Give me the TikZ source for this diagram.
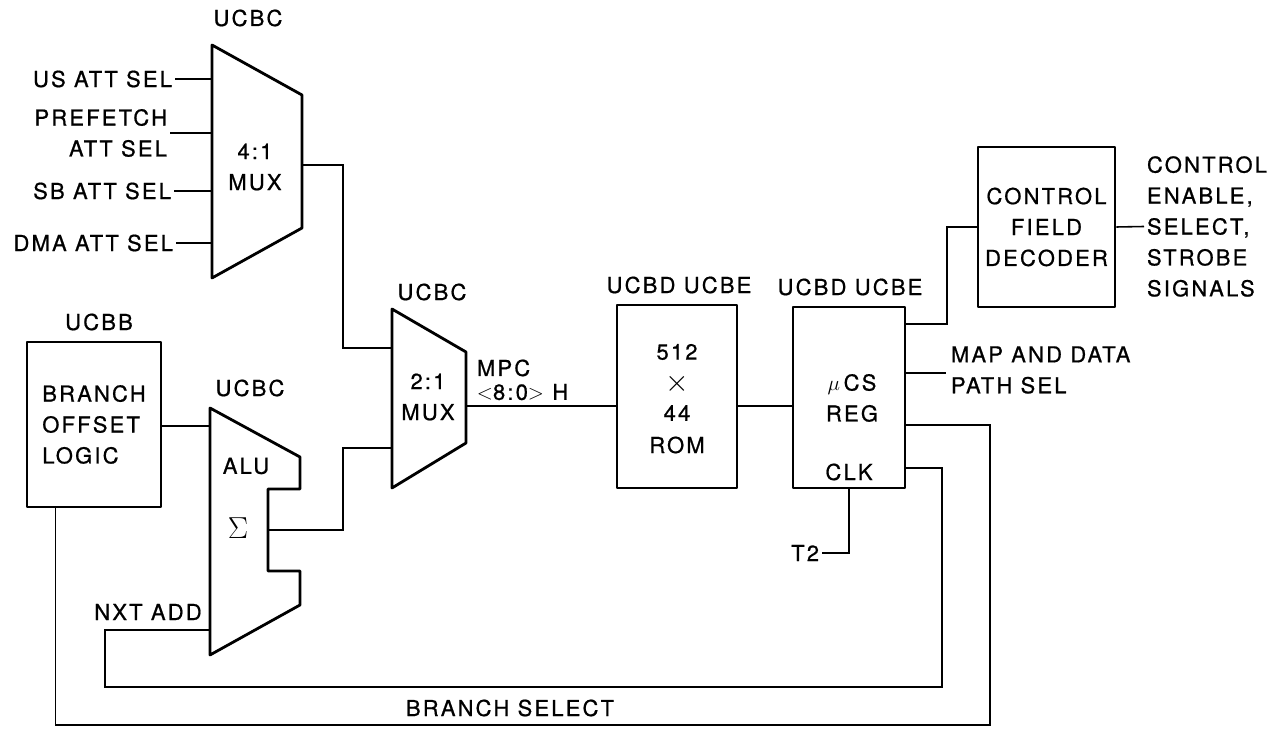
\documentclass[tikz,border=0pt]{standalone}
\usepackage{fontspec}
\setmainfont{TeX Gyre Heros}[LetterSpace=10,FakeBold=0.8]
\usetikzlibrary{positioning}
\newcommand{\lblfont}{\fontsize{12.5}{17.6}\selectfont}
\tikzset{
  blk/.style={draw,line width=1.6pt,line join=round,align=center},
  wire/.style={line width=0.9pt},
  lbl/.style={inner sep=1.5pt,align=center},
}
\begin{document}
\begin{tikzpicture}[x=0.02cm,y=-0.02cm,every node/.style={font=\lblfont}]
\useasboundingbox (0,0) rectangle (1276,729);
% 4:1 mux
\draw[blk] (212,45) -- (302,95) -- (302,228) -- (212,278) -- cycle;
\coordinate (mfin1) at (212,79);
\coordinate (mfin2) at (212,133);
\coordinate (mfin3) at (212,191);
\coordinate (mfin4) at (212,243);
\coordinate (mfout) at (302,165);
\node[lbl] (mftxt) at (255,167) {4:1\\MUX};
\node[lbl] (mfchip) at (248,18) {UCBC};
\node[lbl,anchor=east] (us) at (175,79) {US ATT SEL};
\node[lbl,anchor=east,align=right] (pf) at (170,133) {PREFETCH\\ATT SEL};
\node[lbl,anchor=east] (sb) at (174,191) {SB ATT SEL};
\node[lbl,anchor=east] (dma) at (176,243) {DMA ATT SEL};
\foreach \s/\t in {us/mfin1,pf/mfin2,sb/mfin3,dma/mfin4}
  \draw[wire] (\s.east) -- (\t);
% 2:1 mux
\draw[blk] (392,309) -- (466,352) -- (466,443) -- (392,488) -- cycle;
\coordinate (mtin1) at (392,348);
\coordinate (mtin2) at (392,448);
\coordinate (mtout) at (466,406);
\node[lbl] (mttxt) at (428,397) {2:1\\MUX};
\node[lbl] (mtchip) at (432,292) {UCBC};
\draw[wire] (mfout) -- ++(41,0) |- (mtin1);
% alu
\draw[blk] (210,408) -- (300,457) -- (300,489) -- (268,489) -- (268,571)
  -- (300,571) -- (300,605) -- (210,655) -- cycle;
\coordinate (aluin1) at (210,426);
\coordinate (aluin2) at (210,630);
\coordinate (aluout) at (268,530);
\node[lbl] (alutxt) at (246,466) {ALU};
\node[lbl] (sigma) at (238,528) {\fontsize{19}{20}\selectfont$\Sigma$};
\node[lbl] (aluchip) at (250,388) {UCBC};
\node[lbl] (nxt) at (148,612) {NXT ADD};
\draw[wire] (aluout) -- ++(75,0) |- (mtin2);
% branch offset logic
\node[blk,minimum width=2.68cm,minimum height=3.3cm,align=left] (bol) at (94,424.5)
  {BRANCH\\OFFSET\\LOGIC};
\node[lbl] (bolchip) at (99,322) {UCBB};
\draw[wire] (bol.east |- aluin1) -- (aluin1);
% rom
\node[blk,minimum width=2.4cm,minimum height=3.66cm] (rom) at (677,396.5) {};
\node[lbl] (romw) at (677,352) {512};
\node[lbl,inner sep=0pt] (romx) at (677,384) {\fontsize{17}{17}\selectfont$\times$};
\node[lbl] (romb) at (677,413) {44};
\node[lbl] (romtxt) at (677,445) {ROM};
\node[lbl] (romchip) at (679,285) {UCBD UCBE};
\draw[wire] (mtout) -- (mtout -| rom.west);
\node[lbl,anchor=west,align=left] (mpc) at (474,380) {MPC\\[-4pt]$<$8:0$>$ H};
% control store register
\node[blk,minimum width=2.24cm,minimum height=3.62cm] (reg) at (849,397.5) {};
\node[lbl] (regtxt) at (852,398) {$\mu$\,CS\\REG};
\node[lbl] (clk) at (849,472) {CLK};
\node[lbl] (regchip) at (850,287) {UCBD UCBE};
\draw[wire] (rom.east |- mtout) -- (reg.west |- mtout);
\coordinate (rdec) at (905,324);
\coordinate (rmap) at (905,373);
\coordinate (rbs) at (905,425);
\coordinate (rnxt) at (905,468);
\node[lbl,anchor=east] (t2) at (822,553) {T2};
\draw[wire] (reg.south) |- (t2.east);
% control field decoder
\node[blk,minimum width=2.74cm,minimum height=3.2cm] (dec) at (1046.5,227)
  {CONTROL\\FIELD\\DECODER};
\draw[wire] (rdec) -- ++(42,0) |- (dec.west);
\node[lbl,anchor=west,align=left] (sig) at (1144,226.5)
  {CONTROL\\ENABLE,\\SELECT,\\STROBE\\SIGNALS};
\draw[wire] (dec.east) -- (sig.west);
\node[lbl,anchor=west,align=left] (map) at (948,370) {MAP AND DATA\\PATH SEL};
\coordinate (mapend) at (946,373);
\draw[wire] (rmap) -- (mapend);
% feedback loops
\draw[wire] (aluin2) -| (105,687) -| (942,468) -- (rnxt);
\draw[wire] ([xshift=0.6cm]bol.south west) |- (990,725) |- (rbs);
\node[lbl] (bsel) at (510,708) {BRANCH SELECT};
\end{tikzpicture}
\end{document}
